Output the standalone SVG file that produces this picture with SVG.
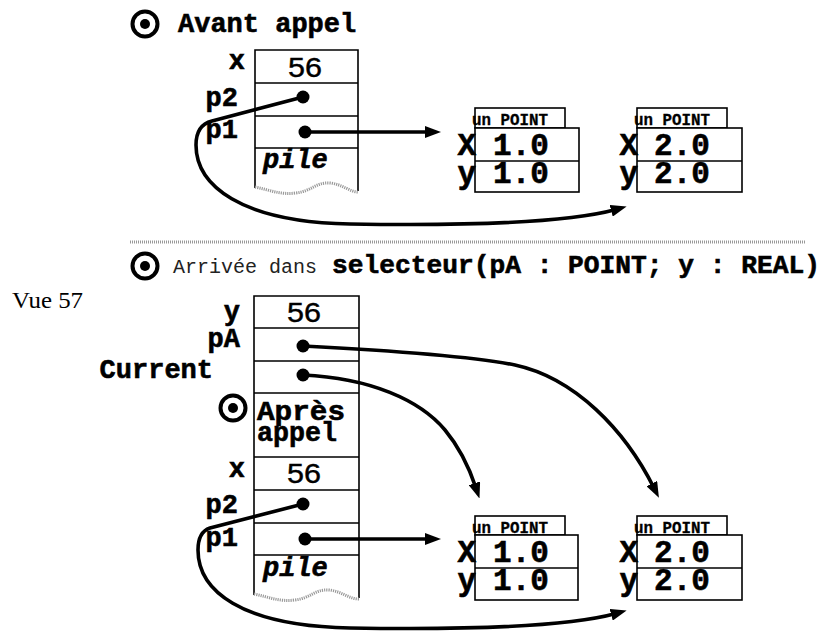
<svg xmlns="http://www.w3.org/2000/svg" width="826" height="631" viewBox="0 0 826 631">
<defs>
<marker id="arr" viewBox="0 0 16 12" refX="5" refY="6" markerWidth="16" markerHeight="12" markerUnits="userSpaceOnUse" orient="auto">
<path d="M0,0 L16,6 L0,12 z" fill="#000"/>
</marker>
</defs>
<style>
.b{font-family:"Liberation Mono","DejaVu Sans Mono",monospace;font-weight:bold;fill:#000;stroke:#000;stroke-width:0.6}
.lbl{font-size:27px}
.big{font-size:31px}
.tab{font-size:16px;stroke-width:0.3}
.num{font-family:"Liberation Sans",Arial,sans-serif;font-size:27px;fill:#000;stroke:#000;stroke-width:0.4}
.cell{fill:none;stroke:#000;stroke-width:1.6}
.box{fill:#fff;stroke:#000;stroke-width:1.6}
.wave{fill:none;stroke:#999;stroke-width:3;stroke-dasharray:1.2 1}
.con{fill:none;stroke:#000;stroke-width:3.6}
.dot{fill:#000}
.ring{fill:none;stroke:#000;stroke-width:4}
</style>
<rect width="826" height="631" fill="#fff"/>

<!-- headings -->
<g id="heading1">
<circle class="ring" cx="145" cy="24" r="12.5"/><circle class="dot" cx="145" cy="24" r="5"/>
<text class="b lbl" x="178" y="32">Avant appel</text>
</g>
<line x1="130" y1="242" x2="805" y2="242" stroke="#999" stroke-width="3" stroke-dasharray="1 1"/>
<g id="heading2">
<circle class="ring" cx="145" cy="266" r="12.5"/><circle class="dot" cx="145" cy="266" r="5"/>
<text x="173" y="273" font-family="Liberation Mono, DejaVu Sans Mono, monospace" font-size="20" fill="#222">Arrivée dans</text>
<text class="b" x="332" y="273" font-size="26" textLength="488" lengthAdjust="spacingAndGlyphs">selecteur(pA : POINT; y : REAL)</text>
</g>
<text id="vue" x="12" y="308" font-family="Liberation Serif, serif" font-size="24" textLength="71" lengthAdjust="spacingAndGlyphs">Vue 57</text>

<!-- top stack -->
<g id="stack1">
<path class="cell" d="M255,188 V50 H358 V191 M255,83 H358 M255,116 H358 M255,148 H358"/>
<path class="wave" d="M255,187 C270,190 280,195 296,193 C312,191 316,182 330,183 C342,184 350,192 358,192"/>
<text class="b lbl" x="245" y="69" text-anchor="end">x</text>
<text class="num" x="288" y="77" textLength="34" lengthAdjust="spacingAndGlyphs">56</text>
<text class="b lbl" x="238" y="106" text-anchor="end">p2</text>
<text class="b lbl" x="238" y="138" text-anchor="end">p1</text>
<text class="b lbl" x="263" y="168" font-style="italic">pile</text>
</g>

<g id="point1a">
<rect class="box" x="475" y="108" width="90" height="20"/>
<rect class="box" x="475" y="128" width="104" height="64"/>
<line class="cell" x1="475" y1="161" x2="579" y2="161"/>
<text class="b tab" x="472" y="125" textLength="76" lengthAdjust="spacingAndGlyphs">un POINT</text>
<text class="b big" x="476" y="155" text-anchor="end">X</text>
<text class="b big" x="476" y="183" text-anchor="end">y</text>
<text class="b big" x="521" y="155" text-anchor="middle">1.0</text>
<text class="b big" x="521" y="183" text-anchor="middle">1.0</text>
</g>
<g id="point2a">
<rect class="box" x="637" y="108" width="90" height="20"/>
<rect class="box" x="637" y="128" width="105" height="64"/>
<line class="cell" x1="637" y1="161" x2="742" y2="161"/>
<text class="b tab" x="634" y="125" textLength="76" lengthAdjust="spacingAndGlyphs">un POINT</text>
<text class="b big" x="638" y="155" text-anchor="end">X</text>
<text class="b big" x="638" y="183" text-anchor="end">y</text>
<text class="b big" x="682" y="155" text-anchor="middle">2.0</text>
<text class="b big" x="682" y="183" text-anchor="middle">2.0</text>
</g>

<!-- bottom stack -->
<g id="stack2">
<path class="cell" d="M254,595 V296 H359 V598 M254,328 H359 M254,361 H359 M254,393 H359 M254,457 H359 M254,490 H359 M254,523 H359 M254,555 H359"/>
<path class="wave" d="M254,594 C269,597 279,602 295,600 C311,598 315,589 329,590 C341,591 349,599 359,599"/>
<text class="b lbl" x="240" y="320" text-anchor="end">y</text>
<text class="num" x="287" y="322" textLength="34" lengthAdjust="spacingAndGlyphs">56</text>
<text class="b lbl" x="240" y="347" text-anchor="end">pA</text>
<text class="b lbl" x="213" y="378" text-anchor="end">Current</text>
<circle class="ring" cx="233" cy="408" r="12.5"/><circle class="dot" cx="233" cy="408" r="5"/>
<text class="b lbl" x="257" y="420" textLength="88" lengthAdjust="spacingAndGlyphs">Après</text>
<text class="b lbl" x="257" y="441" textLength="80" lengthAdjust="spacingAndGlyphs">appel</text>
<text class="b lbl" x="245" y="477" text-anchor="end">x</text>
<text class="num" x="287" y="483" textLength="34" lengthAdjust="spacingAndGlyphs">56</text>
<text class="b lbl" x="238" y="513" text-anchor="end">p2</text>
<text class="b lbl" x="238" y="546" text-anchor="end">p1</text>
<text class="b lbl" x="263" y="576" font-style="italic">pile</text>
</g>

<g id="point1b">
<rect class="box" x="475" y="516" width="90" height="19"/>
<rect class="box" x="475" y="535" width="103" height="65"/>
<line class="cell" x1="475" y1="568" x2="578" y2="568"/>
<text class="b tab" x="472" y="533" textLength="76" lengthAdjust="spacingAndGlyphs">un POINT</text>
<text class="b big" x="476" y="562" text-anchor="end">X</text>
<text class="b big" x="476" y="590" text-anchor="end">y</text>
<text class="b big" x="521" y="562" text-anchor="middle">1.0</text>
<text class="b big" x="521" y="590" text-anchor="middle">1.0</text>
</g>
<g id="point2b">
<rect class="box" x="637" y="516" width="90" height="19"/>
<rect class="box" x="637" y="535" width="105" height="65"/>
<line class="cell" x1="637" y1="568" x2="742" y2="568"/>
<text class="b tab" x="634" y="533" textLength="76" lengthAdjust="spacingAndGlyphs">un POINT</text>
<text class="b big" x="638" y="562" text-anchor="end">X</text>
<text class="b big" x="638" y="590" text-anchor="end">y</text>
<text class="b big" x="682" y="562" text-anchor="middle">2.0</text>
<text class="b big" x="682" y="590" text-anchor="middle">2.0</text>
</g>

<!-- connectors -->
<g id="connectors">
<circle class="dot" cx="305" cy="132" r="6.5"/>
<path class="con" d="M305,132 L430,132" marker-end="url(#arr)"/>
<circle class="dot" cx="303" cy="97" r="6.5"/>
<path class="con" d="M303,97 L212,121 Q196,125 196,145 C196,185 240,222 350,224 C470,226 570,222 616,209.5" marker-end="url(#arr)"/>
<circle class="dot" cx="303" cy="346" r="6.5"/>
<path class="con" d="M303,346 C420,352 480,358 515,365 C575,378 625,430 654,488" marker-end="url(#arr)"/>
<circle class="dot" cx="303" cy="375" r="6.5"/>
<path class="con" d="M303,375 C370,378 420,400 445,430 C460,448 470,470 476,488" marker-end="url(#arr)"/>
<circle class="dot" cx="303" cy="504" r="6.5"/>
<path class="con" d="M303,504 L210,528 Q198,532 198,550 C198,590 240,626 350,628 C470,630 570,626 616,613.5" marker-end="url(#arr)"/>
<circle class="dot" cx="305" cy="539" r="6.5"/>
<path class="con" d="M305,539 L430,539" marker-end="url(#arr)"/>
</g>
</svg>
